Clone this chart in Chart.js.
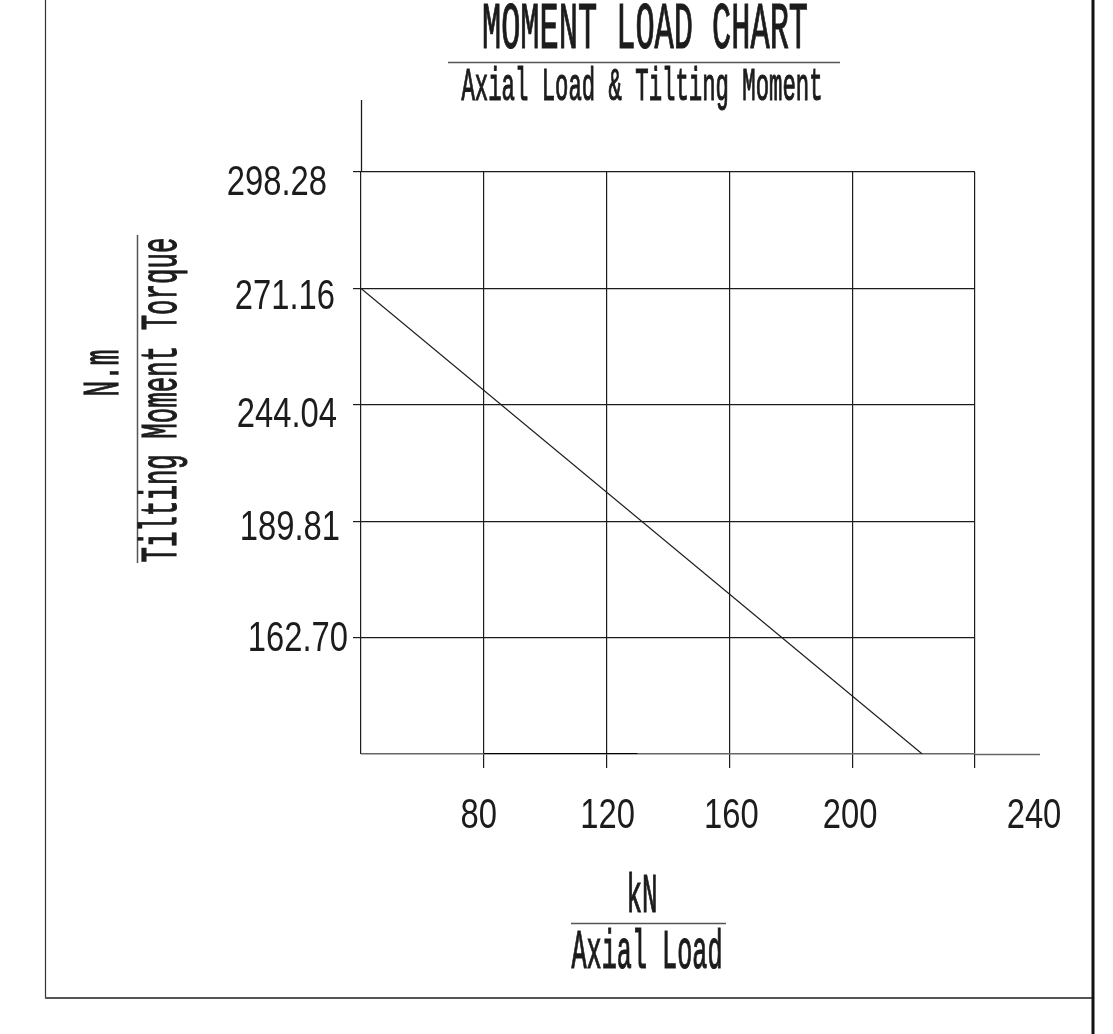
<!DOCTYPE html>
<html>
<head>
<meta charset="utf-8">
<title>Moment Load Chart</title>
<script src="https://cdn.jsdelivr.net/npm/chart.js@4.4.1/dist/chart.umd.min.js"></script>
<style>
  html, body { margin: 0; padding: 0; background: #fff; }
  #wrap { width: 1113px; height: 1034px; }
</style>
</head>
<body>
<div id="wrap"><canvas id="chart" width="1113" height="1034"></canvas></div>
<script>
// Axial load (kN) ticks on the bottom axis
const xTickValues = [80, 120, 160, 200, 240];
const xTickLabels = ['80', '120', '160', '200', '240'];
const xAxisBase = 40; // load at the vertical axis (not labelled)

// Tilting moment (N.m) ticks, one per grid row, bottom to top
const yTickValues = [162.70, 189.81, 244.04, 271.16, 298.28];
const yTickLabels = ['162.70', '189.81', '244.04', '271.16', '298.28'];
const yAxisBase = 135.58; // moment at the horizontal axis (not labelled)

// The limit line
const loadKN = [40, 222.8];
const momentNm = [271.16, 135.58];

// Short heavier stroke lying on the x axis
const overlapKN = [80, 130];

// Grid rows are evenly spaced even though the values are not,
// so moments are mapped onto row positions piece by piece.
const rowValues = [yAxisBase].concat(yTickValues);
function toRow(v) {
  for (let i = 1; i < rowValues.length; i++) {
    if (v <= rowValues[i]) {
      return i - 1 + (v - rowValues[i - 1]) / (rowValues[i] - rowValues[i - 1]);
    }
  }
  return rowValues.length - 1;
}

const MONO = '"Liberation Mono", "DejaVu Sans Mono", monospace';
const SANS = '"Liberation Sans", Arial, sans-serif';
const INK = '#1c1c1c';

// label nudges (label right edge / centre vs grid)
const yLabelRight = [-13, -21, -24, -26, -34];
const yLabelDy = [-2, 4, 7, 6, 8];
const xLabelDx = [-5, 1, 2, -2, 59];

// centred text squeezed to a given width; CAD text is heavier, so stroke it too
function drawFit(ctx, str, cx, baseline, size, family, width) {
  ctx.save();
  ctx.font = size + 'px ' + family;
  const w = ctx.measureText(str).width;
  ctx.translate(cx, baseline);
  ctx.scale(width / w, 1);
  ctx.textAlign = 'center';
  ctx.textBaseline = 'alphabetic';
  ctx.fillText(str, 0, 0);
  ctx.strokeStyle = ctx.fillStyle;
  ctx.lineWidth = 1.2;
  ctx.strokeText(str, 0, 0);
  ctx.restore();
}

function drawNarrow(ctx, str, x, baseline, size, family, sx, align) {
  ctx.save();
  ctx.font = size + 'px ' + family;
  ctx.translate(x, baseline);
  ctx.scale(sx, 1);
  ctx.textAlign = align;
  ctx.textBaseline = 'alphabetic';
  ctx.fillText(str, 0, 0);
  ctx.restore();
}

function line(ctx, x1, y1, x2, y2, color, width) {
  ctx.save();
  ctx.strokeStyle = color;
  ctx.lineWidth = width;
  ctx.beginPath();
  ctx.moveTo(x1, y1);
  ctx.lineTo(x2, y2);
  ctx.stroke();
  ctx.restore();
}

const decorations = {
  id: 'decorations',
  beforeDraw(chart) {
    const ctx = chart.ctx;
    ctx.save();
    ctx.fillStyle = '#fff';
    ctx.fillRect(0, 0, chart.width, chart.height);
    ctx.restore();
  },
  afterDraw(chart) {
    const ctx = chart.ctx;
    const area = chart.chartArea;
    const xs = chart.scales.x;
    const ys = chart.scales.y;

    // axis line overruns
    line(ctx, area.left + 0.5, area.top, area.left + 0.5, 100, INK, 1.3);
    line(ctx, area.right, area.bottom + 0.5, 1040, area.bottom + 0.5, '#666', 1.5);

    ctx.fillStyle = INK;

    // y tick labels
    yTickLabels.forEach((lab, i) => {
      const py = ys.getPixelForValue(i + 1) + yLabelDy[i];
      drawNarrow(ctx, lab, area.left + yLabelRight[i], py + 15, 42, SANS, 0.78, 'right');
    });

    // x tick labels
    xTickLabels.forEach((lab, i) => {
      const px = xs.getPixelForValue(xTickValues[i]) + xLabelDx[i];
      drawNarrow(ctx, lab, px, area.bottom + 74, 42, SANS, 0.78, 'center');
    });

    // title block
    drawFit(ctx, 'MOMENT LOAD CHART', 645, 48, 66, MONO, 326);
    line(ctx, 448, 62.5, 840, 62.5, '#555', 1.5);
    drawFit(ctx, 'Axial Load & Tilting Moment', 642, 100, 46, MONO, 361);

    // x axis title
    drawFit(ctx, 'kN', 642, 912, 55, MONO, 31);
    line(ctx, 571, 923.5, 726, 923.5, '#555', 1.5);
    drawFit(ctx, 'Axial Load', 647, 968, 55, MONO, 151);

    // y axis title (rotated)
    ctx.save();
    ctx.translate(118, 373);
    ctx.rotate(-Math.PI / 2);
    drawFit(ctx, 'N.m', 0, 0, 52, MONO, 47);
    ctx.restore();
    line(ctx, 137.5, 235, 137.5, 563, '#555', 1.5);
    ctx.save();
    ctx.translate(176, 400);
    ctx.rotate(-Math.PI / 2);
    drawFit(ctx, 'Tilting Moment Torque', 0, 0, 52, MONO, 325);
    ctx.restore();

    // drawing frame
    line(ctx, 45.5, 0, 45.5, 998, '#333', 1.2);
    line(ctx, 45, 998, 1093, 998, '#555', 1.8);
    line(ctx, 1093, 0, 1093, 1034, '#111', 3);
  }
};

new Chart(document.getElementById('chart'), {
  type: 'scatter',
  data: {
    datasets: [
      {
        label: 'Limit',
        data: loadKN.map((x, i) => ({ x: x, y: toRow(momentNm[i]) })),
        showLine: true,
        borderColor: INK,
        borderWidth: 1.2,
        pointRadius: 0,
        tension: 0
      },
      {
        label: 'Overlap',
        data: overlapKN.map(x => ({ x: x, y: toRow(yAxisBase) })),
        showLine: true,
        borderColor: '#000',
        borderWidth: 2,
        pointRadius: 0
      }
    ]
  },
  options: {
    responsive: false,
    animation: false,
    devicePixelRatio: 1,
    layout: { padding: { left: 361, right: 138, top: 172, bottom: 280 } },
    plugins: {
      legend: { display: false },
      title: { display: false },
      tooltip: { enabled: false }
    },
    scales: {
      x: {
        type: 'linear',
        min: xAxisBase,
        max: xTickValues[xTickValues.length - 1],
        afterBuildTicks: s => { s.ticks = [xAxisBase].concat(xTickValues).map(v => ({ value: v })); },
        afterFit: s => { s.height = 0; },
        ticks: { display: false },
        border: { display: false },
        grid: {
          color: INK,
          lineWidth: 1.2,
          tickLength: 14,
          tickColor: c => (c.tick && c.tick.value === xAxisBase ? 'rgba(0,0,0,0)' : INK)
        }
      },
      y: {
        type: 'linear',
        min: 0,
        max: yTickValues.length,
        afterBuildTicks: s => { s.ticks = rowValues.map((v, i) => ({ value: i })); },
        afterFit: s => { s.width = 0; },
        ticks: { display: false },
        border: { display: false },
        grid: {
          color: c => (c.tick && c.tick.value === 0 ? '#666' : INK),
          lineWidth: c => (c.tick && c.tick.value === 0 ? 1.5 : 1.2),
          tickLength: 8,
          tickColor: c => (c.tick && c.tick.value === 0 ? 'rgba(0,0,0,0)' : INK)
        }
      }
    }
  },
  plugins: [decorations]
});
</script>
</body>
</html>
